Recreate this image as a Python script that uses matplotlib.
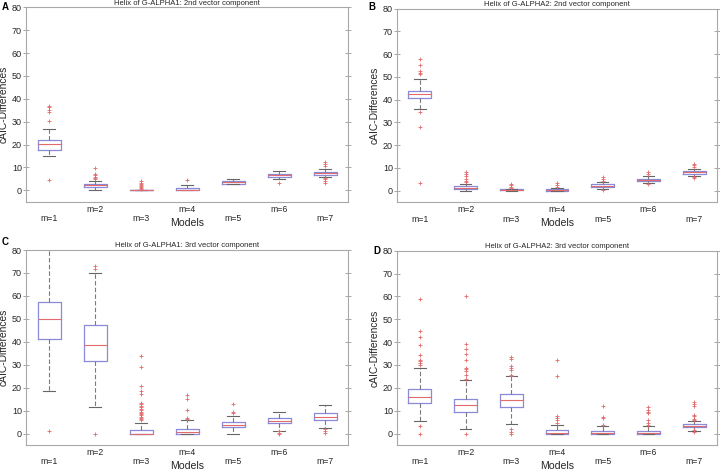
import matplotlib
matplotlib.use('Agg')
import matplotlib.pyplot as plt

plt.rcParams['font.family'] = ['Liberation Sans', 'DejaVu Sans']

models = ['m=1', 'm=2', 'm=3', 'm=4', 'm=5', 'm=6', 'm=7']
titles = ['Helix of G-ALPHA1: 2nd vector component',
          'Helix of G-ALPHA2: 2nd vector component',
          'Helix of G-ALPHA1: 3rd vector component',
          'Helix of G-ALPHA2: 3rd vector component']
letters = ['A', 'B', 'C', 'D']

# panel A
a_q1 = [17.8, 1.5, 0.0, 0.0, 2.9, 6.0, 6.9]
a_med = [20.1, 2.2, 0.0, 0.2, 3.5, 6.6, 7.6]
a_q3 = [21.9, 2.8, 0.1, 1.0, 4.1, 7.1, 8.0]
a_lo = [15.2, 0.2, 0.0, 0.0, 2.8, 4.8, 5.7]
a_hi = [27.0, 3.9, 0.2, 2.2, 5.1, 8.3, 9.2]
a_out = [[4.4, 30.5, 34.3, 35.1, 36.3, 37.0],
         [4.8, 5.4, 6.0, 6.6, 7.1, 9.6],
         [0.4, 0.9, 1.3, 1.7, 2.2, 2.8, 3.4, 3.9],
         [4.4],
         [],
         [3.1],
         [3.2, 3.9, 4.8, 5.2, 10.6, 11.4, 12.2]]

# panel B
b_q1 = [40.7, 0.7, 0.1, 0.0, 1.6, 4.4, 7.4]
b_med = [42.4, 1.3, 0.3, 0.4, 2.2, 4.8, 8.0]
b_q3 = [44.0, 2.2, 0.6, 0.9, 2.8, 5.2, 8.6]
b_lo = [35.7, 0.0, 0.0, 0.0, 0.7, 3.4, 6.4]
b_hi = [49.3, 2.9, 0.8, 1.2, 3.6, 6.4, 9.5]
b_out = [[3.4, 27.8, 34.4, 51.5, 51.9, 52.5, 55.4, 58.0],
         [3.6, 4.4, 5.2, 6.3, 7.4, 8.2],
         [1.0, 1.6, 2.3, 2.8],
         [1.7, 2.5, 3.2],
         [0.3, 4.2, 5.0, 6.0],
         [2.9, 7.3, 8.2],
         [5.5, 5.8, 10.6, 11.1, 11.7]]

# panel C
c_q1 = [41.3, 31.4, 0.0, 0.0, 2.9, 4.4, 6.0]
c_med = [50.0, 38.7, 0.0, 0.8, 3.8, 5.4, 7.2]
c_q3 = [57.5, 47.2, 1.7, 2.1, 5.0, 6.6, 8.8]
c_lo = [18.7, 11.7, 0.0, 0.0, 0.0, 1.3, 2.2]
c_hi = [86.0, 70.0, 4.8, 5.7, 7.7, 9.2, 12.3]
c_out = [[0.9],
         [0.0, 71.8, 73.2],
         [5.7, 6.2, 6.8, 7.3, 7.9, 8.4, 9.0, 9.6, 10.2, 10.8, 11.4, 12.1,
          12.8, 13.4, 17.4, 18.6, 20.6, 29.2, 33.8],
         [6.4, 6.7, 10.1, 15.0, 17.0],
         [8.8, 9.5, 12.7],
         [0.0, 0.3, 1.0],
         [0.1, 1.2, 1.9]]

# panel D
d_q1 = [13.4, 9.5, 11.8, 0.0, 0.0, 0.0, 2.9]
d_med = [16.2, 12.3, 14.5, 0.3, 0.2, 0.3, 3.5]
d_q3 = [19.7, 15.3, 17.1, 1.7, 1.3, 1.3, 4.2]
d_lo = [5.3, 2.2, 4.4, 0.0, 0.0, 0.0, 1.3]
d_hi = [28.9, 23.4, 25.0, 3.8, 3.2, 3.2, 5.3]
d_out = [[0.0, 3.2, 30.2, 31.0, 31.7, 32.4, 34.4, 38.8, 42.2, 44.8, 58.8],
         [0.0, 23.9, 25.8, 27.5, 28.2, 28.9, 32.4, 34.9, 37.1, 39.3, 60.4],
         [0.0, 0.6, 1.9, 25.3, 25.8, 28.0, 28.8, 29.7, 32.8, 33.6],
         [4.7, 5.8, 6.7, 7.5, 25.1, 32.0],
         [3.6, 7.0, 7.3, 12.1],
         [3.9, 4.8, 5.8, 8.8, 9.6, 10.5, 11.5],
         [0.9, 1.5, 5.8, 6.3, 7.6, 8.0, 12.1, 13.1, 14.0]]

panels = [(a_q1, a_med, a_q3, a_lo, a_hi, a_out),
          (b_q1, b_med, b_q3, b_lo, b_hi, b_out),
          (c_q1, c_med, c_q3, c_lo, c_hi, c_out),
          (d_q1, d_med, d_q3, d_lo, d_hi, d_out)]

W, H = 720, 470
# axes boxes in pixels: left, top, right, bottom
rects = [(26, 7.3, 348, 201.8), (397, 8.7, 717, 202),
         (26, 250, 348, 445), (397, 250.7, 717, 445)]
letter_pos = [(2, 7), (368, 7), (2, 242), (373, 251)]

fig = plt.figure(figsize=(7.2, 4.7), dpi=100)

box_col = '#8a8ad8'
red = '#e26a6a'
frame_col = '#a8a8a8'
txt = '#262626'

for k in range(4):
    l, t, r, b = rects[k]
    ax = fig.add_axes([l / W, 1 - b / H, (r - l) / W, (b - t) / H])
    q1, med, q3, lo, hi, out = panels[k]
    stats = []
    for i in range(7):
        stats.append(dict(med=med[i], q1=q1[i], q3=q3[i],
                          whislo=lo[i], whishi=hi[i], fliers=out[i]))
    ax.bxp(stats, positions=range(1, 8), widths=0.5, capwidths=0.25,
           boxprops=dict(color=box_col, linewidth=0.9),
           medianprops=dict(color=red, linewidth=0.8),
           whiskerprops=dict(color='#7a7a7a', linewidth=0.8, linestyle=(0, (4, 2))),
           capprops=dict(color='#666666', linewidth=0.8),
           flierprops=dict(marker='+', markeredgecolor=red, markersize=2.6,
                           markeredgewidth=0.6, linestyle='none'))
    ax.set_xlim(0.5, 7.5)
    ax.set_ylim(-5, 80)
    ax.set_yticks(range(0, 81, 10))
    ax.tick_params(axis='y', direction='inout', length=4, width=0.6,
                   color='#999999', labelsize=6.5, pad=1,
                   labelcolor=txt)
    ax.tick_params(axis='y', which='major', right=True)
    ax.set_xticks(range(1, 8))
    ax.set_xticklabels(models)
    ax.tick_params(axis='x', length=0, labelsize=6.3, labelcolor=txt)
    for i, tick in enumerate(ax.xaxis.get_major_ticks()):
        tick.set_pad(2.5 if i % 2 == 1 else 9)
    for sp in ax.spines.values():
        sp.set_color(frame_col)
        sp.set_linewidth(0.8)
    ax.set_ylabel('cAIC-Differences', fontsize=7.4, color=txt)
    ax.yaxis.set_label_coords(-17.0 / (r - l), 0.5)
    ax.text(0.5, -20.7 / (b - t), 'Models', transform=ax.transAxes,
            ha='center', va='center', fontsize=7.6, color=txt)
    ax.set_title(titles[k], fontsize=5.5, pad=2, color=txt)
    lx, ly = letter_pos[k]
    fig.text(lx / W, 1 - ly / H, letters[k], fontsize=7, fontweight='bold',
             ha='left', va='center')

fig.savefig('out.png', dpi=100)
